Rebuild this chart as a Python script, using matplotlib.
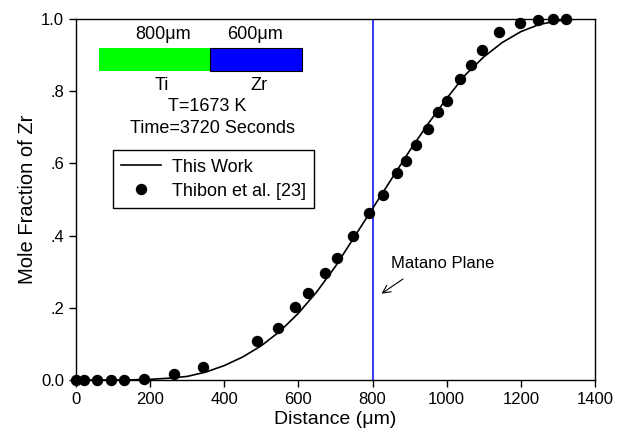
import matplotlib
matplotlib.use("Agg")
import matplotlib.pyplot as plt
from matplotlib.patches import Rectangle

plt.rcParams['font.family'] = ['Liberation Sans', 'DejaVu Sans']

# Model curve (This Work)
curve_x = [0, 100, 150, 200, 250, 300, 350, 400, 450, 500, 550, 600, 650, 700, 750,
           800, 850, 900, 950, 1000, 1050, 1100, 1150, 1200, 1250, 1300, 1350, 1400]
curve_y = [0, 0, 0.0005, 0.002, 0.005, 0.010, 0.022, 0.040, 0.064, 0.095, 0.135, 0.185,
           0.245, 0.315, 0.395, 0.475, 0.555, 0.635, 0.71, 0.78, 0.845, 0.895, 0.935,
           0.965, 0.985, 0.995, 1.0, 1.0]

# Experimental data (Thibon et al. [23])
exp_x = [0, 22, 56, 94, 129, 184, 265, 343, 489, 544, 591, 627, 672, 705, 747, 791,
         827, 865, 891, 917, 950, 977, 1002, 1036, 1066, 1094, 1141, 1198, 1245, 1286, 1323]
exp_y = [0, 0, 0, 0, 0, 0.004, 0.018, 0.037, 0.108, 0.145, 0.201, 0.242, 0.297, 0.339,
         0.399, 0.462, 0.512, 0.573, 0.606, 0.651, 0.696, 0.743, 0.774, 0.833, 0.873,
         0.913, 0.963, 0.988, 0.997, 1.0, 1.0]

matano_x = 800
yticks = [0.0, 0.2, 0.4, 0.6, 0.8, 1.0]
ytick_labels = ["0.0", ".2", ".4", ".6", ".8", "1.0"]
xticks = [0, 200, 400, 600, 800, 1000, 1200, 1400]

fig = plt.figure(figsize=(6.17, 4.36), dpi=100)
ax = fig.add_axes([0.1232, 0.1284, 0.8411, 0.828])

ax.plot(curve_x, curve_y, color='black', lw=1.2, label='This Work', zorder=3)
ax.plot(exp_x, exp_y, 'o', color='black', ms=7.2, ls='none', label='Thibon et al. [23]',
        clip_on=False, zorder=4)
ax.axvline(matano_x, color='blue', lw=1.1, zorder=2)

ax.set_xlim(0, 1400)
ax.set_ylim(0, 1.0)
ax.set_xticks(xticks)
ax.set_yticks(yticks)
ax.set_yticklabels(ytick_labels)
ax.tick_params(direction='out', length=5, labelsize=12, width=1)
ax.set_xlabel('Distance (μm)', fontsize=14, labelpad=3)
ax.set_ylabel('Mole Fraction of Zr', fontsize=14.5, labelpad=3)
for s in ax.spines.values():
    s.set_linewidth(1.0)

# Diffusion couple schematic
ax.add_patch(Rectangle((63, 0.856), 298, 0.063, facecolor='#00ff00', edgecolor='none', zorder=2))
ax.add_patch(Rectangle((361, 0.856), 249, 0.063, facecolor='#0000ff', edgecolor='black', lw=0.8, zorder=2))
fs = 13
ax.text(234, 0.956, '800μm', ha='center', va='center', fontsize=fs)
ax.text(483, 0.956, '600μm', ha='center', va='center', fontsize=fs)
ax.text(231, 0.817, 'Ti', ha='center', va='center', fontsize=fs)
ax.text(494, 0.817, 'Zr', ha='center', va='center', fontsize=fs)
ax.text(355, 0.759, 'T=1673 K', ha='center', va='center', fontsize=fs)
ax.text(369, 0.697, 'Time=3720 Seconds', ha='center', va='center', fontsize=fs)

leg = ax.legend(loc='upper left', bbox_to_anchor=(0.071, 0.636), fontsize=fs,
                frameon=True, fancybox=False, edgecolor='black', framealpha=1,
                borderpad=0.45, handlelength=2.2, handletextpad=0.6, labelspacing=0.4,
                borderaxespad=0)
leg.get_frame().set_linewidth(1.0)

ax.text(850, 0.323, 'Matano Plane', ha='left', va='center', fontsize=12)
ax.annotate('', xy=(818, 0.235), xytext=(888, 0.284),
            arrowprops=dict(arrowstyle='->', color='black', lw=0.8, mutation_scale=14))

fig.savefig('out.png', dpi=100)
